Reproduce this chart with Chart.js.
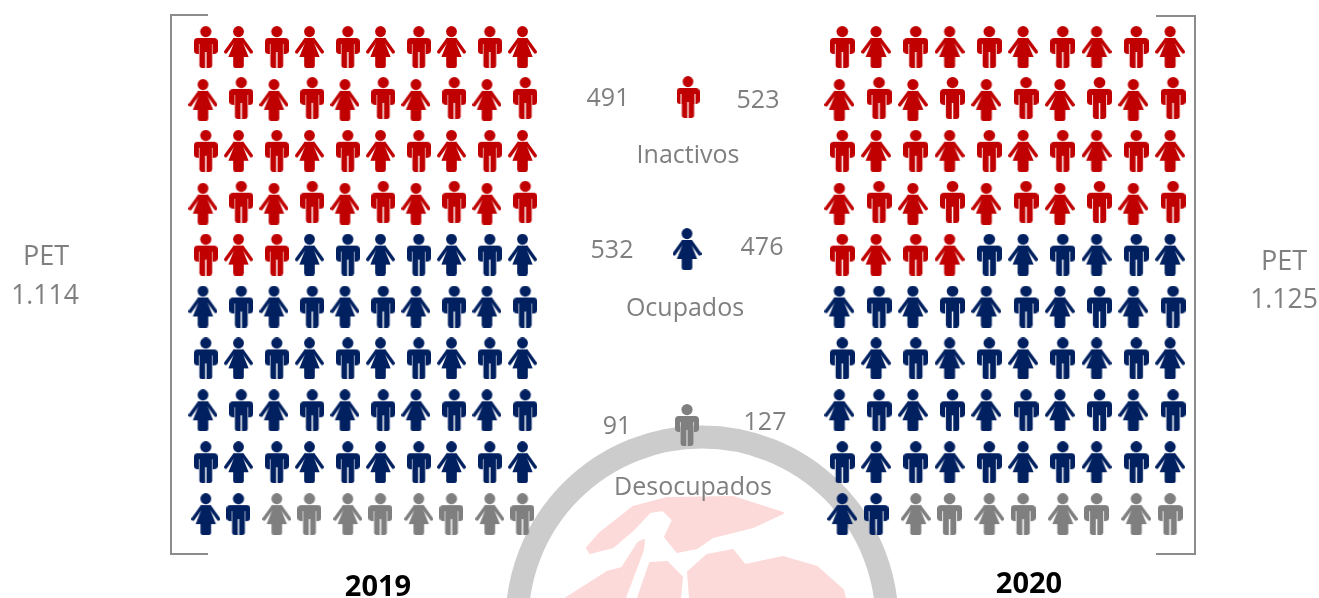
<!DOCTYPE html>
<html>
<head>
<meta charset="utf-8">
<title>PET 2019 - 2020</title>
<script src="https://cdn.jsdelivr.net/npm/chart.js@4"></script>
<style>
  html, body { margin: 0; padding: 0; background: #fff; overflow: hidden; }
  canvas { display: block; }
</style>
</head>
<body>
<canvas id="canvas" width="1319" height="598"></canvas>
<script>
// data
const categories = ['Inactivos', 'Ocupados', 'Desocupados'];
const values2019 = [491, 532, 91];
const values2020 = [523, 476, 127];
const icons2019 = [43, 49, 8];   // icons drawn per category, out of 100
const icons2020 = [44, 48, 8];
const years = ['2019', '2020'];
const petLabels = ['1.114', '1.125'];

const colors = ['#c00000', '#002060', '#7f7f7f'];

// layout of the two panels
const panels = [
  { x0: 205.8, pairW: 71, manW: 24, womanW: 29 },
  { x0: 842.3, pairW: 73.5, manW: 25, womanW: 30 }
];
const rowY0 = 47, rowH = 51.9;

function drawMan(c, w) {
  const k = w / 24;
  c.save();
  c.scale(k, 1);
  c.beginPath(); c.arc(12, 5.6, 5.6, 0, Math.PI * 2); c.fill();
  c.beginPath(); c.roundRect(0, 12, 24, 16, 3.8); c.fill();
  c.clearRect(0, 28, 24, 2);
  // thin light slit between arm and body
  c.clearRect(4.6, 18, 1, 11);
  c.clearRect(18.4, 18, 1, 11);
  c.beginPath(); c.roundRect(5.6, 14, 12.8, 28, 2.4); c.fill();
  c.globalCompositeOperation = 'destination-out';
  c.fillRect(11.3, 26, 1.4, 16);
  c.restore();
}

function drawWoman(c, w) {
  const k = w / 30;
  c.save();
  c.scale(k, 1);
  c.beginPath(); c.arc(15, 5.6, 5.6, 0, Math.PI * 2); c.fill();
  // shoulders and dress
  c.beginPath(); c.roundRect(9.2, 12, 11.6, 5, 2); c.fill();
  c.beginPath();
  c.moveTo(11.5, 14); c.lineTo(18.5, 14); c.lineTo(25.5, 31); c.lineTo(4.5, 31);
  c.closePath(); c.fill();
  c.beginPath(); c.roundRect(9.5, 29, 11, 13, 2.5); c.fill();
  // arms
  c.strokeStyle = c.fillStyle;
  c.lineWidth = 3.6;
  c.lineCap = 'round';
  c.beginPath(); c.moveTo(10.8, 13.7); c.lineTo(1.9, 25.8); c.stroke();
  c.beginPath(); c.moveTo(19.2, 13.7); c.lineTo(28.1, 25.8); c.stroke();
  c.restore();
}

const iconCache = {};
function icon(gender, color, w) {
  const key = gender + color + w;
  if (iconCache[key]) return iconCache[key];
  const cv = document.createElement('canvas');
  cv.width = w; cv.height = 42;
  const c = cv.getContext('2d');
  c.fillStyle = color;
  if (gender === 'm') drawMan(c, w); else drawWoman(c, w);
  iconCache[key] = cv;
  return cv;
}

// seat position in the grid, filled row by row from the top
function seat(panel, i) {
  const row = Math.floor(i / 10), col = i % 10;
  const pair = Math.floor(col / 2), second = col % 2 === 1;
  const shifted = row % 2 === 1 && row < 9;
  const gender = (row % 2 === 0) === !second ? 'm' : 'w';
  let off = second ? 0.46 : 0;
  if (shifted) off = second ? 0.5 : -0.04;
  let y = rowY0 + rowH * row;
  if (row === 1 || row === 3) y += gender === 'w' ? 1 : -1;
  return { x: panel.x0 + (pair + off) * panel.pairW, y, gender };
}

function panelDatasets(panel, counts) {
  let start = 0;
  return counts.map((n, k) => {
    const pts = [], styles = [];
    for (let i = start; i < start + n; i++) {
      const s = seat(panel, i);
      pts.push({ x: s.x, y: s.y });
      styles.push(icon(s.gender, colors[k], s.gender === 'm' ? panel.manW : panel.womanW));
    }
    start += n;
    return { label: categories[k], data: pts, pointStyle: styles, showLine: false };
  });
}

const bracket = pts => ({
  data: pts, showLine: true, pointRadius: 0, borderColor: '#8c8c8c', borderWidth: 2, fill: false, tension: 0
});

const legendIcons = {
  data: [{ x: 688, y: 97 }, { x: 687, y: 249 }, { x: 687, y: 425 }],
  pointStyle: [icon('m', colors[0], 23), icon('w', colors[1], 29), icon('m', colors[2], 24)],
  showLine: false
};

// watermark behind the icons
const blobs = [
  [[587,548],[600,533],[633,507],[667,498],[733,497],[783,513],[753,527],[713,537],[697,548],[677,552],[665,537],[673,520],[663,510],[650,512],[633,530],[613,547],[590,553]],
  [[638,543],[644,540],[643,550],[625,598],[566,598],[607,572],[622,568]],
  [[638,598],[650,563],[667,562],[682,577],[680,598]],
  [[688,572],[707,555],[733,550],[745,565],[783,557],[817,567],[843,590],[845,598],[690,598]]
];

const watermark = {
  id: 'watermark',
  beforeDatasetsDraw(chart) {
    const c = chart.ctx, sx = chart.scales.x, sy = chart.scales.y;
    c.save();
    c.fillStyle = '#fddada';
    c.strokeStyle = '#fddada';
    c.lineJoin = 'round';
    c.lineWidth = 2;
    blobs.forEach(b => {
      c.beginPath();
      b.forEach((p, i) => i ? c.lineTo(sx.getPixelForValue(p[0]), sy.getPixelForValue(p[1])) : c.moveTo(sx.getPixelForValue(p[0]), sy.getPixelForValue(p[1])));
      c.closePath(); c.fill(); c.stroke();
    });
    c.strokeStyle = '#cccccc';
    c.lineWidth = 23;
    c.beginPath();
    c.arc(sx.getPixelForValue(702), sy.getPixelForValue(622), 185, 0, Math.PI * 2);
    c.stroke();
    c.restore();
  }
};

// all text of the picture
const gray = '#7f7f7f';
const font = '"Open Sans"';
const texts = [
  ['PET', 46, 257, 27, gray], [petLabels[0], 45, 296, 26.5, gray],
  ['PET', 1284, 262, 27, gray], [petLabels[1], 1284, 300, 26.5, gray],
  [values2019[0], 608, 99, 25, gray], [values2020[0], 758, 101, 25, gray], [categories[0], 688, 156, 25, gray],
  [values2019[1], 612, 251, 25, gray], [values2020[1], 762, 248, 25, gray], [categories[1], 685, 309, 25, gray],
  [values2019[2], 617, 427, 25, gray], [values2020[2], 765, 423, 25, gray], [categories[2], 693, 488, 25, gray],
  [years[0], 378, 588, 29, '#000', 'bold'], [years[1], 1029, 585, 29, '#000', 'bold']
];

const labelsPlugin = {
  id: 'labelsPlugin',
  afterDraw(chart) {
    const c = chart.ctx, sx = chart.scales.x, sy = chart.scales.y;
    c.save();
    c.textAlign = 'center';
    c.textBaseline = 'middle';
    texts.forEach(t => {
      c.font = (t[5] || 'normal') + ' ' + t[3] + 'px ' + font;
      c.fillStyle = t[4];
      c.fillText(String(t[0]), sx.getPixelForValue(t[1]), sy.getPixelForValue(t[2]));
    });
    c.restore();
  }
};

new Chart(document.getElementById('canvas').getContext('2d'), {
  type: 'scatter',
  data: {
    datasets: [
      bracket([{ x: 208, y: 15 }, { x: 171, y: 15 }, { x: 171, y: 554 }, { x: 208, y: 554 }]),
      bracket([{ x: 1156, y: 16 }, { x: 1195, y: 16 }, { x: 1195, y: 554 }, { x: 1156, y: 554 }]),
      ...panelDatasets(panels[0], icons2019),
      ...panelDatasets(panels[1], icons2020),
      legendIcons
    ]
  },
  options: {
    responsive: false,
    animation: false,
    layout: { padding: 0, autoPadding: false },
    plugins: { legend: { display: false }, tooltip: { enabled: false } },
    scales: {
      x: { type: 'linear', min: 0, max: 1319, display: false },
      y: { type: 'linear', min: 0, max: 598, reverse: true, display: false }
    }
  },
  plugins: [watermark, labelsPlugin]
});
</script>
</body>
</html>
